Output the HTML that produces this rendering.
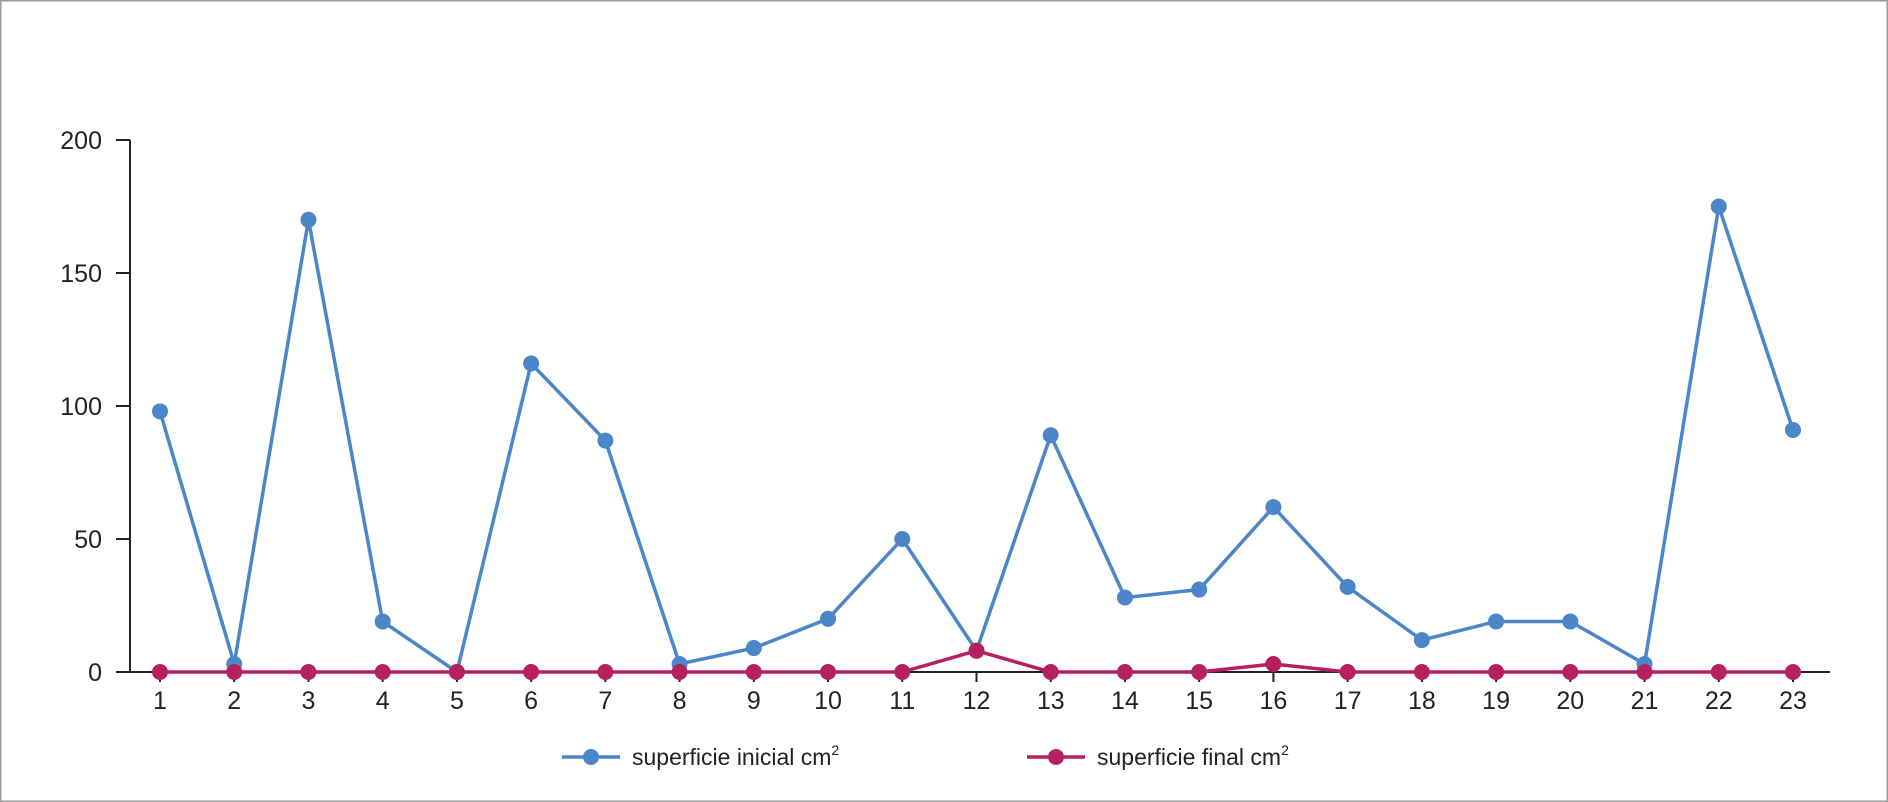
<!DOCTYPE html>
<html><head><meta charset="utf-8"><style>
body{margin:0;background:#fff}
svg{display:block;font-family:"Liberation Sans",sans-serif}
</style></head><body>
<svg id="c" width="1888" height="802">
<rect x="0.5" y="0.5" width="1887" height="801" fill="#fff" stroke="#9a9a9a" stroke-width="2"/>
</svg>
<script>
const categories=["1","2","3","4","5","6","7","8","9","10","11","12","13","14","15","16","17","18","19","20","21","22","23"];
const inicial=[98,3,170,19,0,116,87,3,9,20,50,8,89,28,31,62,32,12,19,19,3,175,91];
const finalV=[0,0,0,0,0,0,0,0,0,0,0,8,0,0,0,3,0,0,0,0,0,0,0];
const yTicks=[0,50,100,150,200];
const seriesNames=["superficie inicial cm","superficie final cm"];
const svg=document.getElementById('c');const NS="http://www.w3.org/2000/svg";
function mk(t,a,p){const e=document.createElementNS(NS,t);for(const k in a)e.setAttribute(k,a[k]);(p||svg).appendChild(e);return e;}
const x0=160,x1=1793,y0=672,yTop=140;
const xs=i=>x0+i*(x1-x0)/(categories.length-1);
const ys=v=>y0-v*(y0-yTop)/200;
let ax=mk('line',{x1:130,y1:yTop,x2:130,y2:y0,stroke:'#222','stroke-width':2});


let bx=mk('line',{x1:130,y1:y0,x2:1830,y2:y0,stroke:'#222','stroke-width':2});


yTicks.forEach(v=>{
 const t=mk('line',{x1:116,y1:ys(v),x2:130,y2:ys(v),stroke:'#222','stroke-width':2});
 
 
 const l=mk('text',{x:102,y:ys(v)+9,'text-anchor':'end','font-size':25,fill:'#222'});
 l.textContent=v;
 
 
});
categories.forEach((c,i)=>{
 const t=mk('line',{x1:xs(i),y1:y0,x2:xs(i),y2:y0+10,stroke:'#222','stroke-width':2});
 
 
 const l=mk('text',{x:xs(i),y:y0+37,'text-anchor':'middle','font-size':25,fill:'#222'});
 l.textContent=c;
 
 
});
function series(vals,col,name){
 const g=mk('g',{});
 
 
 const p=mk('polyline',{points:vals.map((v,i)=>xs(i)+','+ys(v)).join(' '),fill:'none',stroke:col,'stroke-width':3.5},g);
 
 
 vals.forEach((v,i)=>{const c=mk('circle',{cx:xs(i),cy:ys(v),r:8,fill:col},g);
  
  });
}
series(inicial,'#4a86c8','series-inicial');
series(finalV,'#b5215f','series-final');
function legend(xl,col,txt,name){
 const g=mk('g',{});
 
 
 mk('line',{x1:xl,y1:757,x2:xl+58,y2:757,stroke:col,'stroke-width':3.5},g);
 mk('circle',{cx:xl+29,cy:757,r:8,fill:col},g);
 const t=mk('text',{x:xl+70,y:765,'font-size':23,fill:'#222'},g);
 t.textContent=txt;
 const s=mk('tspan',{'font-size':14,dy:-10},t);s.textContent='2';
}
legend(562,'#4a86c8',seriesNames[0],'legend-inicial');
legend(1027,'#b5215f',seriesNames[1],'legend-final');
</script>
</body></html>
